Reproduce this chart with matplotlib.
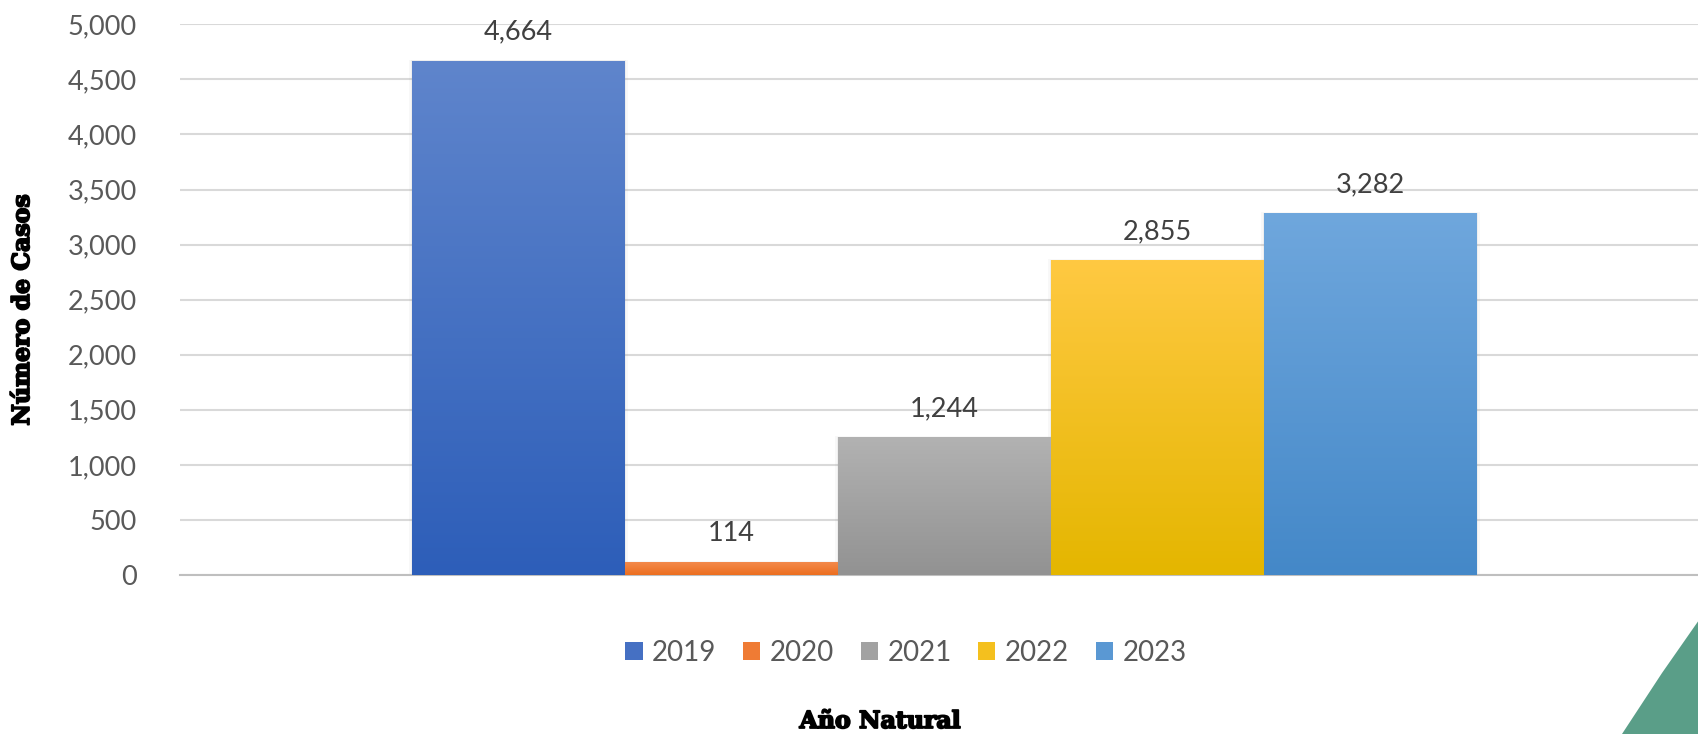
import numpy as np
import matplotlib
matplotlib.use("Agg")
import matplotlib.pyplot as plt
import matplotlib.patheffects as pe
from matplotlib.colors import to_rgb
from matplotlib.patches import Polygon, Rectangle
from matplotlib.ticker import FuncFormatter

# Data
years  = ["2019", "2020", "2021", "2022", "2023"]
cases  = [4664, 114, 1244, 2855, 3282]
# gradient colours, top -> bottom
tops   = ["#5F85CC", "#F38A4C", "#B2B2B2", "#FFC942", "#6FA7DD"]
bottoms = ["#2D5EB9", "#EC6E1F", "#929292", "#E4B600", "#4488C8"]

W, H = 1699, 734
plt.rcParams["font.family"] = ["Lato", "DejaVu Sans"]

fig = plt.figure(figsize=(W / 100, H / 100), dpi=100)
ax = fig.add_axes([180 / W, (H - 575) / H, (W - 180) / W, (575 - 24.3) / H])

bar_w = 0.14
xs = (np.arange(len(years)) - 2) * bar_w

bars = ax.bar(xs, cases, width=bar_w, color=bottoms, zorder=3)
for b, top, bot in zip(bars, tops, bottoms):
    x0, y0 = b.get_x(), b.get_y()
    w, h = b.get_width(), b.get_height()
    # soft shadow
    for k, a in [(0.006, 0.05), (0.003, 0.08)]:
        ax.add_patch(Rectangle((x0 - k * 0.3, y0), w + k * 0.6, h + k * 2500,
                               facecolor="#808080", alpha=a, lw=0, zorder=2))
    grad = np.linspace(0, 1, 256)[:, None, None]
    img = (1 - grad) * np.array(to_rgb(top)) + grad * np.array(to_rgb(bot))
    ax.imshow(img, extent=(x0, x0 + w, y0, y0 + h), aspect="auto",
              origin="upper", zorder=4, interpolation="bilinear")

for x, v in zip(xs, cases):
    ax.annotate(f"{v:,}", (x, v), xytext=(0, 21), textcoords="offset points",
                ha="center", va="center", fontsize=19.5, color="#404040")

ax.set_xlim((180 - 944.5) / 1521.4, (W - 944.5) / 1521.4)
ax.set_ylim(0, 5000)
ax.set_yticks(np.arange(0, 5001, 500))
ax.yaxis.set_major_formatter(FuncFormatter(lambda v, p: f"{int(v):,}"))
ax.set_xticks([])
ax.tick_params(axis="y", length=0, pad=31, labelsize=19.5, labelcolor="#595959")
ax.grid(axis="y", color="#D9D9D9", lw=1.5, zorder=0)
for s in ["top", "right", "left"]:
    ax.spines[s].set_visible(False)
ax.spines["bottom"].set_color("#BFBFBF")
ax.spines["bottom"].set_linewidth(1.5)
ax.set_axisbelow(True)

# legend
handles = [Rectangle((0, 0), 1, 1, facecolor=c) for c in
           ["#4570C3", "#EF7B34", "#A2A2A2", "#F4C01E", "#5A98D3"]]
fig.legend(handles, years, loc="center", bbox_to_anchor=(906 / W, 1 - 653 / H),
           ncol=5, frameon=False, fontsize=20, labelcolor="#595959",
           handlelength=0.62, handleheight=0.62, handletextpad=0.35,
           columnspacing=0.95)

bold = [pe.withStroke(linewidth=1.3, foreground="black")]
fig.text(22 / W, 1 - 310 / H, "Número de Casos", rotation=90, ha="center",
         va="center", fontsize=17, fontweight="bold", family="DejaVu Serif",
         path_effects=bold)
fig.text(880 / W, 1 - 721 / H, "Año Natural", ha="center", va="center",
         fontsize=17, fontweight="bold", family="DejaVu Serif",
         path_effects=bold)

# green corner decoration
pts = [(1699, 620), (1662, 673), (1622, 734), (1699, 734)]
fig.patches.append(Polygon([(x / W, 1 - y / H) for x, y in pts], closed=True,
                           transform=fig.transFigure, facecolor="#5A9E88",
                           edgecolor="none"))

fig.savefig("out.png", dpi=100)
